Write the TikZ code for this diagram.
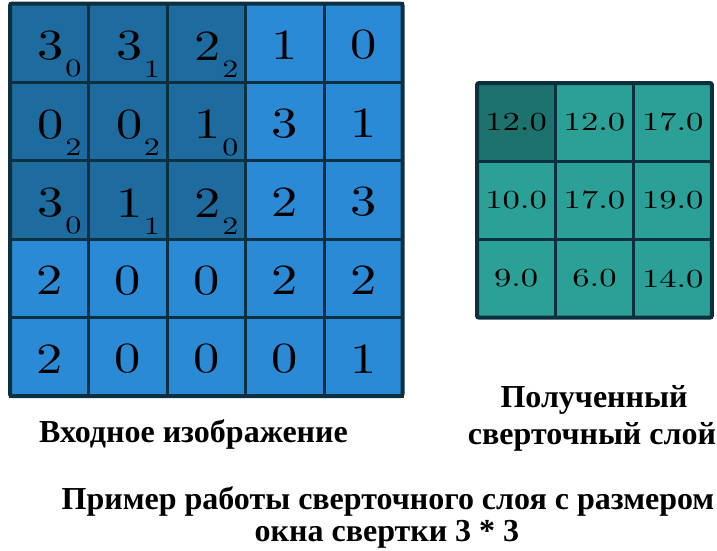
\documentclass[tikz,border=0pt]{standalone}
\usepackage{fontspec}
\usepackage{graphicx}
\newfontfamily\capfont{Liberation Serif}
\newfontfamily\numfont[Extension=.otf]{lmroman10-regular}
\definecolor{cellhi}{HTML}{1E6B9F}
\definecolor{celllo}{HTML}{2A8AD6}
\definecolor{outhi}{HTML}{1D726D}
\definecolor{outlo}{HTML}{2BA097}
\definecolor{gridline}{HTML}{0C3040}
\tikzset{
  incell/.style={draw=gridline, line width=3pt, minimum size=78.5pt, inner sep=0pt, outer sep=0pt, anchor=north west},
  outcell/.style={draw=gridline, line width=3pt, minimum width=78.3pt, minimum height=78pt, inner sep=0pt, outer sep=0pt, anchor=north west},
  caption/.style={font=\capfont\bfseries\fontsize{32}{36}\selectfont, anchor=base, inner sep=0pt},
}
% cell value, kernel weight (subscript) and output value
\newcommand{\dig}[1]{\numfont\fontsize{43}{43}\selectfont\scalebox{1.22}[1]{#1}}
\newcommand{\wt}[1]{\numfont\fontsize{25}{25}\selectfont\scalebox{1.28}[1]{#1}}
\newcommand{\outv}[1]{\numfont\fontsize{26}{26}\selectfont\scalebox{1.33}[1]{#1}}
\begin{document}
\begin{tikzpicture}[x=1pt, y=-1pt]
\useasboundingbox (0,0) rectangle (717,550);
% input image 5x5
\def\ix{10}\def\iy{3.5}\def\ic{78.5}
\foreach \r/\row in {0/{3,3,2,1,0},1/{0,0,1,3,1},2/{3,1,2,2,3},3/{2,0,0,2,2},4/{2,0,0,0,1}}{
  \foreach \v [count=\c from 0] in \row {
    \pgfmathsetmacro{\hl}{(\r<3 && \c<3) ? 1 : 0}
    \ifdim\hl pt>0.5pt
      \node[incell, fill=cellhi] (in-\r-\c) at (\ix+\c*\ic, \iy+\r*\ic) {};
      \node (v-\r-\c) at ([xshift=1.5pt, yshift=-3pt]in-\r-\c.center) {\dig{\v}};
    \else
      \node[incell, fill=celllo] (in-\r-\c) at (\ix+\c*\ic, \iy+\r*\ic) {};
      \node (v-\r-\c) at ([yshift=-2pt]in-\r-\c.center) {\dig{\v}};
    \fi
  }
}
% kernel weights on the highlighted window
\foreach \r/\c/\w in {0/0/0,0/1/1,0/2/2,1/0/2,1/1/2,1/2/0,2/0/0,2/1/1,2/2/2}{
  \node (w-\r-\c) at ([xshift=24pt, yshift=-26pt]in-\r-\c.center) {\wt{\w}};
}
\draw[gridline, line width=4pt, rounded corners=2pt] (in-0-0.north west) rectangle (in-4-4.south east);
% convolution result 3x3
\def\ox{477}\def\oy{83}\def\oc{78.3}
\foreach \r/\row in {0/{12.0,12.0,17.0},1/{10.0,17.0,19.0},2/{9.0,6.0,14.0}}{
  \foreach \v [count=\c from 0] in \row {
    \pgfmathsetmacro{\hl}{(\r==0 && \c==0) ? 1 : 0}
    \ifdim\hl pt>0.5pt
      \node[outcell, fill=outhi] (out-\r-\c) at (\ox+\c*\oc, \oy+\r*\oc) {};
    \else
      \node[outcell, fill=outlo] (out-\r-\c) at (\ox+\c*\oc, \oy+\r*\oc) {};
    \fi
    \node (ov-\r-\c) at (out-\r-\c.center) {\outv{\v}};
  }
}
\draw[gridline, line width=4pt, rounded corners=2pt] (out-0-0.north west) rectangle (out-2-2.south east);
% captions
\node[caption] (capin) at (193.5,442) {Входное изображение};
\node[caption] (capout1) at (594,407) {Полученный};
\node[caption] (capout2) at (592,444) {сверточный слой};
\node[caption] (title1) at (388,509) {Пример работы сверточного слоя с размером};
\node[caption] (title2) at (387,541) {окна свертки 3 * 3};
\end{tikzpicture}
\end{document}
